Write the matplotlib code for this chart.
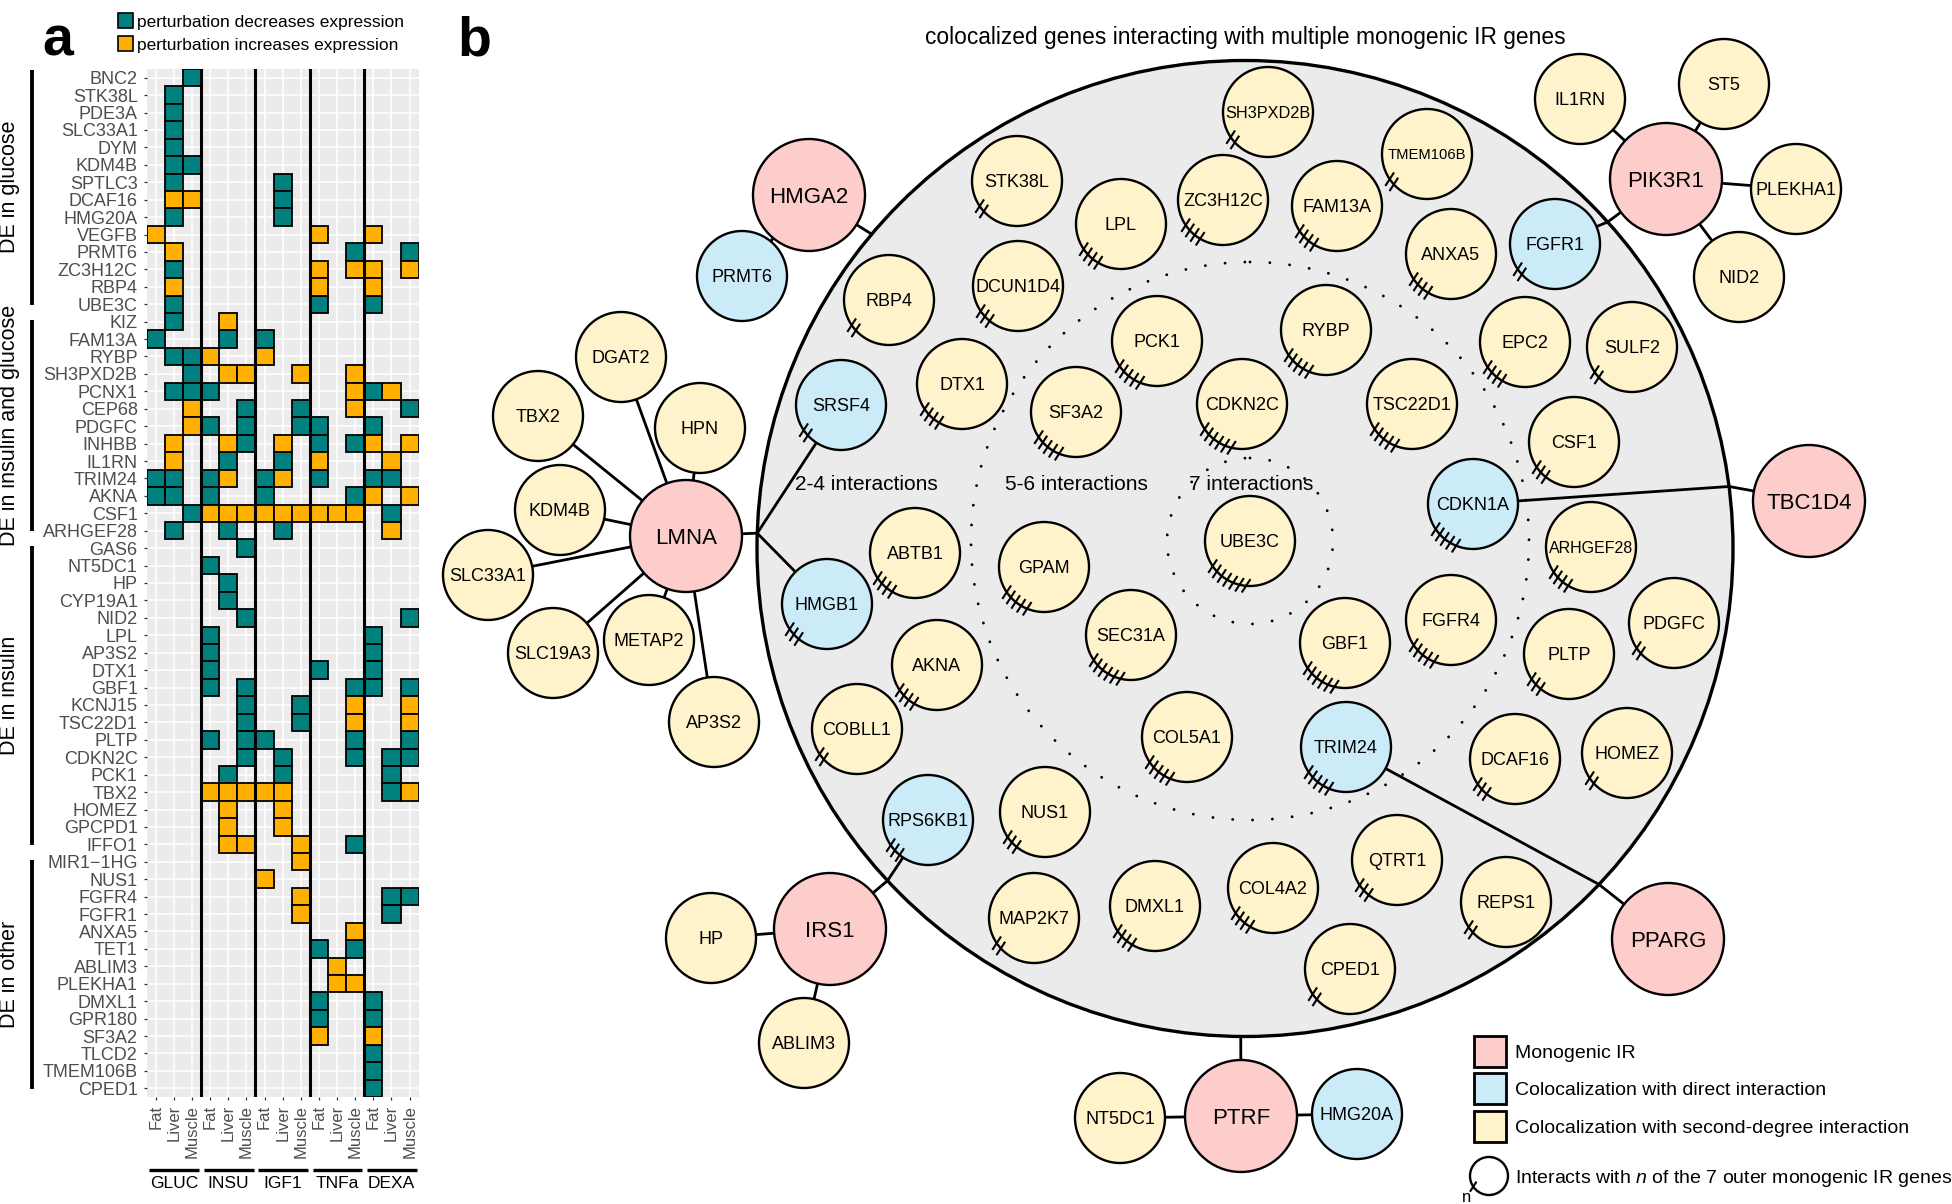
import numpy as np
import matplotlib.pyplot as plt
from matplotlib.patches import Circle, Rectangle
from matplotlib.transforms import blended_transform_factory

plt.rcParams['font.family'] = ['Liberation Sans', 'DejaVu Sans']
plt.rcParams['mathtext.fontset'] = 'custom'
plt.rcParams['mathtext.rm'] = 'Liberation Sans'
plt.rcParams['mathtext.it'] = 'Liberation Sans:italic'

# ---------------- panel a: perturbation heatmap ----------------
conditions = ['GLUC', 'INSU', 'IGF1', 'TNFa', 'DEXA']
tissues = ['Fat', 'Liver', 'Muscle']

genes = ['BNC2', 'STK38L', 'PDE3A', 'SLC33A1', 'DYM', 'KDM4B', 'SPTLC3', 'DCAF16',
         'HMG20A', 'VEGFB', 'PRMT6', 'ZC3H12C', 'RBP4', 'UBE3C', 'KIZ', 'FAM13A',
         'RYBP', 'SH3PXD2B', 'PCNX1', 'CEP68', 'PDGFC', 'INHBB', 'IL1RN', 'TRIM24',
         'AKNA', 'CSF1', 'ARHGEF28', 'GAS6', 'NT5DC1', 'HP', 'CYP19A1', 'NID2', 'LPL',
         'AP3S2', 'DTX1', 'GBF1', 'KCNJ15', 'TSC22D1', 'PLTP', 'CDKN2C', 'PCK1', 'TBX2',
         'HOMEZ', 'GPCPD1', 'IFFO1', 'MIR1\u22121HG', 'NUS1', 'FGFR4', 'FGFR1', 'ANXA5',
         'TET1', 'ABLIM3', 'PLEKHA1', 'DMXL1', 'GPR180', 'SF3A2', 'TLCD2', 'TMEM106B',
         'CPED1']

# one character per condition/tissue column: d = decreases, i = increases
effects = ['..d............', '.d.............', '.d.............', '.d.............',
           '.d.............', '.dd............', '.d.....d.......', '.ii....d.......',
           '.d.....d.......', 'i........i..i..', '.i.........d..d', '.d.......i.ii.i',
           '.i.......i..i..', '.d.......d..d..', '.d..i..........', 'd...d.d........',
           '.ddi..i........', '..d.ii..i..i...', '.ddd.......idi.', '..i..d..d..i..d',
           '..id.d..dd..d..', '.i..id.i.d.di.i', '.i..d..d.i...i.', 'dd.di.di.d..dd.',
           'dd.d..d....di.i', '..diiiiiiiii.d.', '.d..d..d.....i.', '.....d.........',
           '...d...........', '....d..........', '....d..........', '.....d........d',
           '...d........d..', '...d........d..', '...d.....d..d..', '...d.d.....dd.d',
           '.....d..d..i..i', '.....d..d..i..i', '...d.dd....d..d', '.....d.d...d.dd',
           '....d..d.....d.', '...iiiii.....di', '....i..i.......', '....i..i.......',
           '....ii..i..d...', '........i......', '......i........', '........i....dd',
           '........i....d.', '...........i...', '.........d.d...', '..........i....',
           '..........ii...', '.........d..d..', '.........d..d..', '.........i..i..',
           '............d..', '............d..', '............d..']

gene_groups = [('DE in glucose', 'BNC2', 'UBE3C'),
               ('DE in insulin and glucose', 'KIZ', 'ARHGEF28'),
               ('DE in insulin', 'GAS6', 'IFFO1'),
               ('DE in other', 'MIR1\u22121HG', 'CPED1')]

# ---------------- panel b: interaction network ----------------
node_names = ['HMGA2', 'PRMT6', 'LMNA', 'DGAT2', 'TBX2', 'HPN', 'KDM4B', 'SLC33A1',
              'SLC19A3', 'METAP2', 'AP3S2', 'PIK3R1', 'IL1RN', 'ST5', 'PLEKHA1', 'NID2',
              'TBC1D4', 'IRS1', 'HP', 'ABLIM3', 'PPARG', 'PTRF', 'NT5DC1', 'HMG20A',
              'SH3PXD2B', 'TMEM106B', 'STK38L', 'ZC3H12C', 'FAM13A', 'LPL', 'ANXA5',
              'FGFR1', 'RBP4', 'DCUN1D4', 'EPC2', 'SULF2', 'PCK1', 'RYBP', 'SRSF4', 'DTX1',
              'SF3A2', 'CDKN2C', 'TSC22D1', 'CSF1', 'CDKN1A', 'ARHGEF28', 'UBE3C', 'ABTB1',
              'GPAM', 'HMGB1', 'PDGFC', 'FGFR4', 'GBF1', 'SEC31A', 'PLTP', 'AKNA', 'COBLL1',
              'COL5A1', 'TRIM24', 'DCAF16', 'HOMEZ', 'RPS6KB1', 'NUS1', 'MAP2K7', 'DMXL1',
              'COL4A2', 'QTRT1', 'REPS1', 'CPED1']
# m = monogenic IR, d = colocalization with direct interaction, s = second-degree
node_kind = ['m', 'd', 'm', 's', 's', 's', 's', 's', 's', 's', 's', 'm', 's', 's', 's', 's',
             'm', 'm', 's', 's', 'm', 'm', 's', 'd',
             's', 's', 's', 's', 's', 's', 's', 'd', 's', 's', 's', 's', 's', 's', 'd', 's',
             's', 's', 's', 's', 'd', 's', 's', 's', 's', 'd', 's', 's', 's', 's', 's', 's',
             's', 's', 'd', 's', 's', 'd', 's', 's', 's', 's', 's', 's', 's']
# number of the 7 outer monogenic IR genes each inner gene interacts with
node_hits = [0] * 24 + [2, 2, 2, 4, 4, 4, 4, 2, 2, 3, 4, 2, 5, 5, 2, 4, 5, 6, 5, 3, 5, 4,
                        7, 4, 5, 3, 2, 5, 6, 6, 3, 4, 2, 5, 5, 3, 2, 3, 3, 2, 4, 4, 3, 2, 2]

# layout (pixel positions of the drawing)
node_x = [809, 742, 686, 621, 538, 700, 560, 488, 553, 649, 714, 1666, 1580, 1724, 1796, 1739,
          1809, 830, 711, 804, 1668, 1241, 1120, 1357,
          1268, 1427, 1017, 1223, 1337, 1121, 1451, 1555, 889, 1018, 1525, 1632, 1157, 1326,
          841, 962, 1076, 1242, 1412, 1574, 1473, 1591, 1250, 915, 1044, 827, 1674, 1451,
          1345, 1131, 1569, 937, 857, 1187, 1346, 1515, 1627, 928, 1045, 1034, 1155, 1273,
          1397, 1506, 1350]
node_y = [195, 276, 536, 357, 416, 428, 510, 575, 653, 640, 722, 179, 99, 84, 189, 277,
          501, 929, 938, 1043, 939, 1116, 1118, 1114,
          112, 154, 181, 200, 206, 224, 254, 244, 300, 286, 342, 347, 341, 330, 405, 384,
          412, 404, 404, 442, 504, 547, 541, 553, 567, 604, 623, 620, 643, 635, 654, 665,
          729, 737, 747, 759, 753, 820, 812, 918, 906, 888, 860, 902, 969]

outer_links = [('HMGA2', 'PRMT6'), ('LMNA', 'DGAT2'), ('LMNA', 'TBX2'), ('LMNA', 'HPN'),
               ('LMNA', 'KDM4B'), ('LMNA', 'SLC33A1'), ('LMNA', 'SLC19A3'),
               ('LMNA', 'METAP2'), ('LMNA', 'AP3S2'), ('PIK3R1', 'IL1RN'), ('PIK3R1', 'ST5'),
               ('PIK3R1', 'PLEKHA1'), ('PIK3R1', 'NID2'), ('IRS1', 'HP'), ('IRS1', 'ABLIM3'),
               ('PTRF', 'NT5DC1'), ('PTRF', 'HMG20A')]
inner_links = [('LMNA', 'SRSF4'), ('LMNA', 'HMGB1'), ('PIK3R1', 'FGFR1'),
               ('TBC1D4', 'CDKN1A'), ('PPARG', 'TRIM24'), ('IRS1', 'RPS6KB1')]
# where each monogenic gene's link meets the big circle (degrees, screen orientation)
anchor_angle = {'HMGA2': -139.9, 'LMNA': -178.2, 'PIK3R1': -42.0, 'TBC1D4': -7.3,
                'PPARG': 43.5, 'IRS1': 137.1, 'PTRF': 90.5}

ring_labels = ['2-4 interactions', '5-6 interactions', '7 interactions']

# ---------------- styling ----------------
TEAL, ORANGE = '#00807F', '#FFB000'
FILL = {'m': '#FCCDCB', 'd': '#CCEBF9', 's': '#FFF3CB'}
PX = 100 / 72.0


def label_y(y, fs):
    return y + 0.358 * fs * PX


fig = plt.figure(figsize=(19.52, 12.04), dpi=100)
ax = fig.add_axes([0, 0, 1, 1])
ax.set_xlim(0, 1952)
ax.set_ylim(1204, 0)
ax.axis('off')

# ---- heatmap ----
axh = fig.add_axes([146.7 / 1952, 1 - 1097 / 1204, 272 / 1952, 1028 / 1204])
axh.set_facecolor('#EBEBEB')
dec_x, dec_y, inc_x, inc_y = [], [], [], []
for r, row in enumerate(effects):
    for c, ch in enumerate(row):
        if ch == 'd':
            dec_x.append(c)
            dec_y.append(r)
        elif ch == 'i':
            inc_x.append(c)
            inc_y.append(r)
axh.bar(dec_x, 1, bottom=np.array(dec_y) - 0.5, width=1, color=TEAL,
        edgecolor='black', linewidth=1.3, zorder=3)
axh.bar(inc_x, 1, bottom=np.array(inc_y) - 0.5, width=1, color=ORANGE,
        edgecolor='black', linewidth=1.3, zorder=3)
ncol = len(conditions) * len(tissues)
axh.set_xlim(-0.5, ncol - 0.5)
axh.set_ylim(len(genes) - 0.5, -0.5)
axh.grid(True, color='white', linewidth=1.1)
axh.set_axisbelow(True)
for s in axh.spines.values():
    s.set_visible(False)
for g in range(1, len(conditions)):
    axh.axvline(g * 3 - 0.5, color='black', lw=2.2, zorder=4)
axh.set_yticks(range(len(genes)))
axh.set_yticklabels(genes, fontsize=13, color='#4D4D4D')
axh.set_xticks(range(ncol))
axh.set_xticklabels(tissues * len(conditions), fontsize=12, color='#4D4D4D', rotation=90)
axh.tick_params(axis='y', length=2.5, width=0.9, color='#333333', pad=4)
axh.tick_params(axis='x', length=2.5, width=0.9, color='#333333', pad=3)

tb = blended_transform_factory(axh.transData, axh.transAxes)
for g, cond in enumerate(conditions):
    axh.plot([g * 3 - 0.35, g * 3 + 2.4], [-0.071, -0.071], transform=tb, clip_on=False,
             color='black', lw=2.4, solid_capstyle='butt')
    axh.text(g * 3 + 1.0, -0.0846, cond, transform=tb, ha='center', va='center',
             fontsize=12.5)

tl = blended_transform_factory(axh.transAxes, axh.transData)
for name, first, last in gene_groups:
    a, b = genes.index(first), genes.index(last)
    top = a - 0.1 if a > 0 else -0.45
    axh.plot([-0.4217, -0.4217], [top, b + 0.02], transform=tl, clip_on=False,
             color='black', lw=2.8, solid_capstyle='butt')
    axh.text(-0.5026, (top + b) / 2, name, transform=tl, rotation=90, ha='center',
             va='center', fontsize=15.5)

# heatmap legend
for i, (col, txt) in enumerate([(TEAL, 'perturbation decreases expression'),
                                (ORANGE, 'perturbation increases expression')]):
    yy = 13.3 + i * 22.5
    ax.add_patch(Rectangle((118.3, yy), 15, 15, fc=col, ec='black', lw=1.2))
    ax.text(137, label_y(yy + 7.5, 12.5), txt, fontsize=12.5, va='baseline')

ax.text(58, 55, 'a', fontsize=40, fontweight='bold', ha='center', va='baseline')
ax.text(474.5, 56, 'b', fontsize=40, fontweight='bold', ha='center', va='baseline')

# ---- network ----
CX, CY, R = 1245, 548.5, 488
ax.add_patch(Circle((CX, CY), R, fc='#EBEBEB', ec='black', lw=2.4, zorder=1))
for rr in (279, 83):
    ax.add_patch(Circle((1250, 541), rr, fill=False, ec='black', lw=2.1,
                        ls=(0, (0.01, 6.8)), capstyle='round', zorder=2))
ax.text(1245, label_y(36, 16.4), 'colocalized genes interacting with multiple monogenic IR genes',
        fontsize=16.4, ha='center', va='baseline')
for txt, xx in zip(ring_labels, [866, 1076, 1251]):
    ax.text(xx, label_y(483, 15), txt, fontsize=15, ha='center', va='baseline', zorder=3)

pos = {n: (x, y) for n, x, y in zip(node_names, node_x, node_y)}
elw = 2.0
for a, b in outer_links:
    ax.plot([pos[a][0], pos[b][0]], [pos[a][1], pos[b][1]], color='black', lw=elw, zorder=3)
anchor = {}
for hub, ang in anchor_angle.items():
    t = np.radians(ang)
    anchor[hub] = (CX + R * np.cos(t), CY + R * np.sin(t))
    ax.plot([pos[hub][0], anchor[hub][0]], [pos[hub][1], anchor[hub][1]],
            color='black', lw=elw, zorder=3)
for hub, tgt in inner_links:
    ax.plot([anchor[hub][0], pos[tgt][0]], [anchor[hub][1], pos[tgt][1]],
            color='black', lw=elw, zorder=3)

small_fs = {'SH3PXD2B': 11.7, 'TMEM106B': 10.6, 'ARHGEF28': 11.5}


def tally(x, y, r, n, lw=1.5, half=8):
    dx, dy = half * np.cos(np.radians(57)), -half * np.sin(np.radians(57))
    for k in range(n):
        phi = np.radians(146 - 8.5 * k)
        px, py = x + r * np.cos(phi), y + r * np.sin(phi)
        ax.plot([px - dx, px + dx], [py - dy, py + dy], color='black', lw=lw, zorder=5,
                solid_capstyle='butt')


for name, kind, n, x, y in zip(node_names, node_kind, node_hits, node_x, node_y):
    r = 56 if kind == 'm' else 45
    ax.add_patch(Circle((x, y), r, fc=FILL[kind], ec='black', lw=1.7, zorder=4))
    fs = 16 if kind == 'm' else small_fs.get(name, 13)
    ax.text(x, label_y(y, fs), name, fontsize=fs, ha='center', va='baseline', zorder=6)
    tally(x, y, r, n)

# network legend
legend_items = [('m', 'Monogenic IR'), ('d', 'Colocalization with direct interaction'),
                ('s', 'Colocalization with second-degree interaction')]
for i, (k, txt) in enumerate(legend_items):
    yy = 1051 + i * 37.5
    ax.add_patch(Rectangle((1474, yy - 15.5), 32, 31, fc=FILL[k], ec='black', lw=2.0))
    ax.text(1515, label_y(yy, 14), txt, fontsize=14, va='baseline')
ax.add_patch(Circle((1489, 1176), 19, fc='white', ec='black', lw=1.7, zorder=4))
tally(1489, 1176, 19, 1, half=6)
ax.text(1467, 1202, 'n', fontsize=12, ha='center', va='baseline')
ax.text(1515, label_y(1176, 14), r'Interacts with $n$ of the 7 outer monogenic IR genes',
        fontsize=14, va='baseline')

fig.savefig('out.png', dpi=100)
